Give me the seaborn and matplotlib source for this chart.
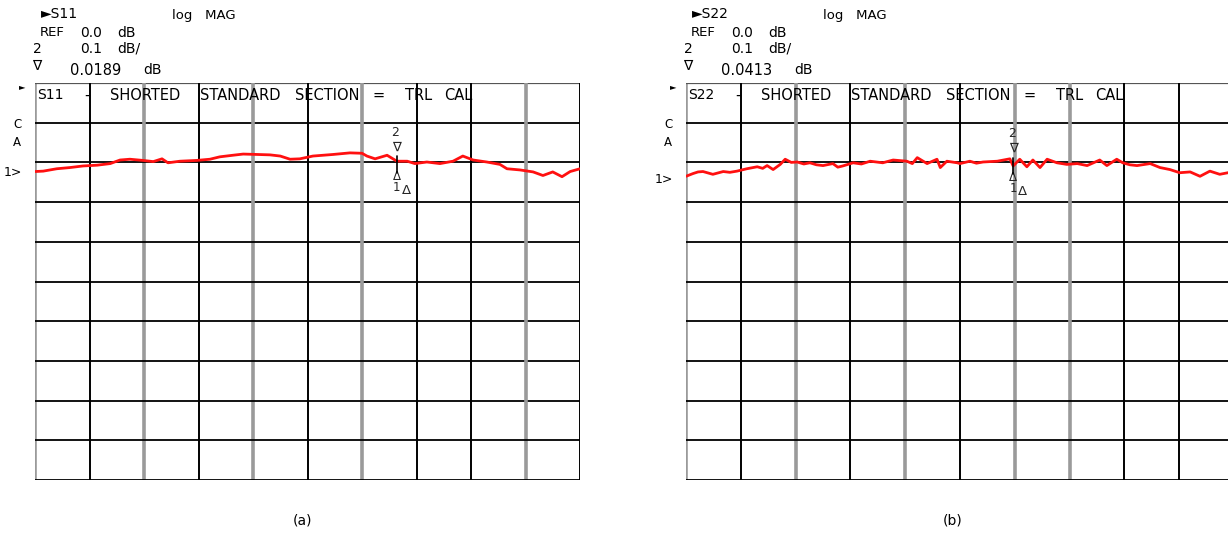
import matplotlib
matplotlib.use("Agg")
import matplotlib.pyplot as plt
import seaborn as sns

# trace data: x in graticule divisions (0..10), y in dB (0.1 dB/div)
s11_div = [0.00, 0.15, 0.40, 0.64, 0.88, 1.14, 1.38, 1.56, 1.74, 1.98, 2.17, 2.33,
           2.44, 2.66, 2.97, 3.21, 3.39, 3.63, 3.82, 4.07, 4.31, 4.50, 4.68, 4.86,
           5.10, 5.47, 5.78, 6.00, 6.09, 6.24, 6.46, 6.64, 6.83, 6.97, 7.19, 7.43,
           7.67, 7.85, 8.04, 8.29, 8.53, 8.66, 8.90, 9.14, 9.32, 9.50, 9.67, 9.82, 10.0]
s11_db = [-0.023, -0.022, -0.016, -0.013, -0.009, -0.007, -0.003, 0.006, 0.008, 0.005,
          0.002, 0.009, -0.001, 0.003, 0.005, 0.008, 0.014, 0.018, 0.021, 0.020, 0.019,
          0.016, 0.008, 0.009, 0.016, 0.020, 0.024, 0.023, 0.016, 0.009, 0.018, 0.003,
          0.003, -0.003, 0.001, -0.003, 0.003, 0.016, 0.006, 0.001, -0.005, -0.016,
          -0.019, -0.024, -0.033, -0.024, -0.036, -0.023, -0.016]

s22_div = [0.00, 0.13, 0.22, 0.31, 0.49, 0.68, 0.80, 0.93, 1.11, 1.30, 1.40, 1.48, 1.59,
           1.72, 1.81, 1.92, 2.03, 2.15, 2.26, 2.38, 2.50, 2.68, 2.77, 2.86, 3.05, 3.20,
           3.36, 3.59, 3.78, 4.03, 4.13, 4.22, 4.40, 4.58, 4.64, 4.76, 4.95, 5.00, 5.18,
           5.30, 5.42, 5.68, 5.91, 5.97, 6.09, 6.22, 6.33, 6.46, 6.59, 6.77, 6.95, 7.14,
           7.32, 7.55, 7.68, 7.86, 7.97, 8.10, 8.23, 8.47, 8.65, 8.83, 9.01, 9.20, 9.38,
           9.56, 9.74, 9.89, 10.0]
s22_db = [-0.035, -0.028, -0.024, -0.023, -0.030, -0.023, -0.025, -0.022, -0.016, -0.011,
          -0.015, -0.008, -0.018, -0.005, 0.008, 0.000, 0.001, -0.004, -0.001, -0.006,
          -0.008, -0.003, -0.012, -0.009, -0.001, -0.004, 0.003, -0.001, 0.006, 0.003,
          -0.003, 0.012, -0.003, 0.008, -0.013, 0.003, -0.001, -0.003, 0.003, -0.002,
          0.001, 0.003, 0.009, -0.009, 0.008, -0.011, 0.006, -0.013, 0.008, -0.001,
          -0.005, -0.003, -0.008, 0.006, -0.008, 0.008, -0.001, -0.006, -0.008, -0.003,
          -0.013, -0.018, -0.026, -0.024, -0.035, -0.022, -0.030, -0.026, -0.028]

channels = ["S11", "S22"]
delta_readout = ["0.0189", "0.0413"]
marker_div = [6.64, 5.97]
marker_db = [0.003, 0.0]
captions = ["(a)", "(b)"]
title_words = ["-", "SHORTED", "STANDARD", "SECTION", "=", "TRL", "CAL"]
title_offsets = [52, 75, 165, 260, 344, 370, 409]

W, H = 1228, 549
fig = plt.figure(figsize=(W / 100, H / 100), dpi=100)
sns.set_style("white")
plt.rcParams["font.family"] = ["DejaVu Sans"]

def px(x, y):
    return x / W, 1 - y / H

def label(x, y, s, size=9.5, ha="left", **kw):
    fig.text(*px(x, y), s, fontsize=size, va="center", ha=ha, color="black", **kw)

panels = [
    dict(x0=35, width=545, div=s11_div, db=s11_db, gray=[0, 2, 4, 6, 9], ref_y=172),
    dict(x0=686, width=548, div=s22_div, db=s22_db, gray=[0, 2, 4, 6, 7], ref_y=180),
]

top, bot = 83, 480
for i, p in enumerate(panels):
    x0 = p["x0"]
    ax = fig.add_axes([x0 / W, 1 - bot / H, p["width"] / W, (bot - top) / H])
    ax.set_xlim(0, 10)
    ax.set_ylim(-0.8, 0.2)
    for k in range(11):
        if k in p["gray"]:
            ax.axvline(k, color="#9a9a9a", lw=2.6, zorder=1)
        else:
            ax.axvline(k, color="black", lw=1.4, zorder=1)
        yk = 0.2 - 0.1 * k
        ax.axhline(yk, color="#555555" if k == 0 else "black", lw=1.6 if k == 0 else 1.3, zorder=1)
    for s in ax.spines.values():
        s.set_visible(False)
    ax.set_xticks([])
    ax.set_yticks([])
    ax.patch.set_alpha(0)

    sns.lineplot(x=p["div"], y=p["db"], ax=ax, color="#ff1010", lw=2.0, zorder=3)

    # markers
    mx, my = marker_div[i], marker_db[i]
    ax.annotate("2", (mx, my), xytext=(-1, 21), textcoords="offset points",
                ha="center", va="center", fontsize=9)
    ax.annotate("\u2207", (mx, my), xytext=(0, 10), textcoords="offset points",
                ha="center", va="center", fontsize=9.5)
    ax.plot([mx, mx], [my, my + 0.012], color="black", lw=1.2, zorder=4)
    ax.plot([mx, mx], [my, my - 0.03], color="black", lw=1.2, zorder=4)
    ax.annotate("\u0394", (mx, my), xytext=(0, -11), textcoords="offset points",
                ha="center", va="center", fontsize=8.5)
    ax.annotate("1", (mx, my), xytext=(0, -19), textcoords="offset points",
                ha="center", va="center", fontsize=8.5)
    ax.annotate("\u0394", (mx, my), xytext=(7, -21), textcoords="offset points",
                ha="center", va="center", fontsize=9.5)

    # title line inside the graticule
    label(x0 + 2, 95, channels[i], size=10)
    for w, off in zip(title_words, title_offsets):
        label(x0 + off, 95, w, size=10.5, ha="center" if len(w) == 1 else "left")

    # header block
    hx = x0
    label(hx + 6, 14, "\u25ba" + channels[i], size=10)
    label(hx + 137, 16, "log   MAG", size=9.5)
    label(hx + 5, 33, "REF", size=9.5)
    label(hx + 45, 33, "0.0", size=10)
    label(hx + 82, 33, "dB", size=10)
    label(hx - 2, 49, "2", size=10)
    label(hx + 45, 49, "0.1", size=10)
    label(hx + 82, 49, "dB/", size=10)
    label(hx - 3, 66, "\u2207", size=10)
    label(hx + 35, 70, delta_readout[i], size=10.5)
    label(hx + 108, 70, "dB", size=10)
    label(hx - 16, 87, "\u25ba", size=6)
    label(hx - 22, 124, "C", size=8.5)
    label(hx - 22, 142, "A", size=8.5)
    label(hx - 31, p["ref_y"], "1>", size=9)

    label(hx + 267, 521, captions[i], size=10, ha="center")

fig.savefig("out.png", dpi=100)
